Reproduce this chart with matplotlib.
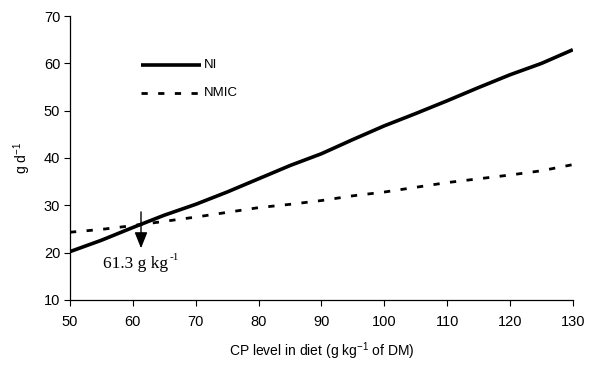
import matplotlib
matplotlib.use("Agg")
import matplotlib.pyplot as plt

plt.rcParams['font.family'] = ['Liberation Sans', 'DejaVu Sans']
plt.rcParams['lines.scale_dashes'] = False
plt.rcParams['mathtext.fontset'] = 'custom'
plt.rcParams['mathtext.rm'] = 'Liberation Sans'
plt.rcParams['mathtext.it'] = 'Liberation Sans:italic'
plt.rcParams['mathtext.bf'] = 'Liberation Sans:bold'

cp_level = [50, 55, 60, 65, 70, 75, 80, 85, 90, 95, 100, 105, 110, 115, 120, 125, 130]
ni = [20.2, 22.6, 25.3, 27.9, 30.2, 32.8, 35.6, 38.4, 40.9, 43.9, 46.8, 49.4, 52.1, 54.9, 57.6, 60.0, 62.9]
nmic = [24.3, 24.9, 25.7, 26.6, 27.5, 28.5, 29.5, 30.2, 31.0, 32.0, 32.8, 33.8, 34.8, 35.6, 36.4, 37.3, 38.6]
x_ticks = [50, 60, 70, 80, 90, 100, 110, 120, 130]
y_ticks = [10, 20, 30, 40, 50, 60, 70]
crossover = 61.3

fig = plt.figure(figsize=(5.93, 3.67), dpi=100)
ax = fig.add_axes([0.118, 0.183, 0.848, 0.773])

ax.plot(cp_level, ni, color='black', lw=2.6, solid_capstyle='butt')
ax.plot(cp_level, nmic, color='black', lw=2.0, dashes=(4.5, 7.5))

# legend drawn manually
ax.plot([61.3, 70.8], [59.7, 59.7], color='black', lw=2.6, solid_capstyle='butt')
ax.text(71.3, 59.7, 'NI', va='center', ha='left', fontsize=9.5)
ax.plot([61.3, 70.8], [53.8, 53.8], color='black', lw=2.0, dashes=(4.5, 7.5))
ax.text(71.3, 53.8, 'NMIC', va='center', ha='left', fontsize=9.5)

ax.annotate('', xy=(crossover, 20.9), xytext=(crossover, 28.6),
            arrowprops=dict(arrowstyle='-|>,head_length=0.75,head_width=0.3', color='black', lw=1.0,
                            mutation_scale=13, shrinkA=0, shrinkB=0))
txt = ax.text(55.3, 17.6, '61.3 g kg', family='Liberation Serif', fontsize=12.5,
              va='center', ha='left')
ax.annotate('-1', xy=(1.0, 1.0), xycoords=txt, xytext=(1, 2), textcoords='offset points',
            family='Liberation Serif', fontsize=8, va='top', ha='left')

ax.set_xlim(50, 130)
ax.set_ylim(10, 70)
ax.set_xticks(x_ticks)
ax.set_yticks(y_ticks)
ax.tick_params(labelsize=10.5, length=4, width=0.8, direction='out', pad=7)
ax.tick_params(axis='y', pad=3)
for s in ['top', 'right']:
    ax.spines[s].set_visible(False)
for s in ['left', 'bottom']:
    ax.spines[s].set_linewidth(0.9)

ax.set_xlabel('CP level in diet (g kg$^{-1}$ of DM)', fontsize=10, labelpad=8)
ax.set_ylabel('g d$^{-1}$', fontsize=10, labelpad=8)

fig.savefig('out.png', dpi=100)
